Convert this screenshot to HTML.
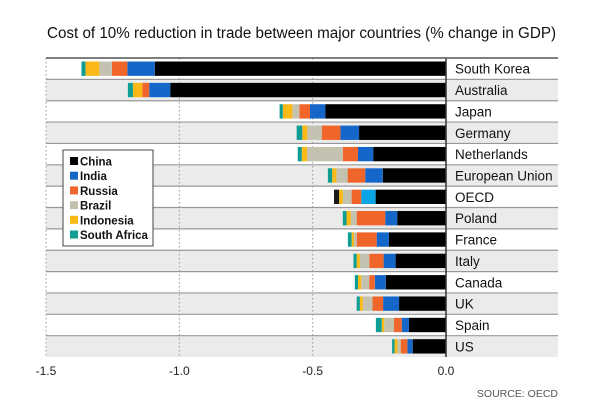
<!DOCTYPE html>
<html><head><meta charset="utf-8"><style>
body{margin:0;background:#fff;width:602px;height:413px;overflow:hidden;font-family:"Liberation Sans",sans-serif}
</style></head><body>
<svg id="chart" width="602" height="413" xmlns="http://www.w3.org/2000/svg" font-family="Liberation Sans, sans-serif">
<text x="47" y="38" font-size="15.5" textLength="509" lengthAdjust="spacingAndGlyphs" fill="#111">Cost of 10% reduction in trade between major countries (% change in GDP)</text>
<g id="rows"></g><g id="grid"></g><g id="bars"></g><g id="labels"></g>
<line x1="46" x2="558" y1="58" y2="58" stroke="#555" stroke-width="1.5"/>
<g id="legend"></g>
<text x="558" y="397" font-size="10.5" fill="#555" text-anchor="end">SOURCE: OECD</text>
</svg>
<script>
const countries=["South Korea","Australia","Japan","Germany","Netherlands","European Union","OECD","Poland","France","Italy","Canada","UK","Spain","US"];
const china=[1.092,1.034,0.453,0.326,0.273,0.237,0.264,0.183,0.214,0.189,0.226,0.176,0.139,0.125];
const india=[0.103,0.079,0.057,0.070,0.057,0.066,0.054,0.045,0.046,0.045,0.041,0.060,0.027,0.020];
const russia=[0.058,0.026,0.040,0.070,0.057,0.066,0.036,0.107,0.075,0.054,0.021,0.040,0.029,0.025];
const brazil=[0.047,0.000,0.026,0.054,0.134,0.042,0.033,0.022,0.010,0.035,0.030,0.036,0.037,0.012];
const indonesia=[0.052,0.035,0.036,0.019,0.020,0.016,0.014,0.016,0.009,0.012,0.012,0.011,0.009,0.011];
const southAfrica=[0.015,0.019,0.012,0.021,0.015,0.016,0.019,0.014,0.014,0.012,0.012,0.012,0.022,0.009];
const seriesNames=["China","India","Russia","Brazil","Indonesia","South Africa"];
const ticks=[-1.5,-1.0,-0.5,0.0];
const series=[china,india,russia,brazil,indonesia,southAfrica];
const colors=["#000","#1466c8","#f0662a","#c3c2b0","#fbb917","#109d94"];
const NS="http://www.w3.org/2000/svg";
const x=v=>446+v*266.67;
const top0=58,rh=21.36;
const y=i=>top0+i*rh;
function mk(tag,attrs,parent){const e=document.createElementNS(NS,tag);for(const k in attrs)e.setAttribute(k,attrs[k]);document.getElementById(parent).appendChild(e);return e;}
countries.forEach((c,i)=>{
  const r=mk("rect",{x:46,y:y(i),width:512,height:rh,fill:i%2?"#ebebeb":"#fff"},"rows");
  
  
  if(i>0){const l=mk("line",{x1:46,x2:558,y1:y(i),y2:y(i),stroke:"#999","stroke-width":1.2},"rows");
  
  }
  const t=mk("text",{x:455,y:y(i)+rh/2+5,"font-size":13.5,fill:"#111"},"labels");
  t.textContent=c;
  
  
});
ticks.forEach(v=>{
  if(v<0){const g=mk("line",{x1:x(v),x2:x(v),y1:58,y2:y(14),stroke:"#999","stroke-dasharray":"1.5,2.5"},"grid");
  
  }
  const t=mk("text",{x:x(v),y:375,"font-size":12,fill:"#222","text-anchor":"middle"},"labels");
  t.textContent=v.toFixed(1);
  
  
});
countries.forEach((c,i)=>{
  let acc=0;
  series.forEach((s,k)=>{
    const v=s[i]; if(v<=0) {return;}
    let col=colors[k];
    if(c==="OECD"&&k===1) col="#0aa3e6";
    if(c==="OECD"&&k===5) col="#1a1a1a";
    const b=mk("rect",{x:x(-(acc+v)),y:y(i)+3.5,width:v*266.67,height:rh-7,fill:col},"bars");
    
    
    acc+=v;
  });
});
const z=mk("line",{x1:446,x2:446,y1:58,y2:y(14),stroke:"#333","stroke-width":1.5},"bars");


const lb=mk("rect",{x:63,y:150,width:90,height:96,fill:"#fff",stroke:"#444","stroke-width":1},"legend");


seriesNames.forEach((n,k)=>{
  const sy=157+k*14.7;
  const sw=mk("rect",{x:70,y:sy,width:8,height:8,fill:colors[k]},"legend");
  
  
  const t=mk("text",{x:80,y:sy+8.5,"font-size":11.5,"font-weight":"bold",fill:"#111"},"legend");
  t.textContent=n;
  
  
});
</script>
</body></html>
